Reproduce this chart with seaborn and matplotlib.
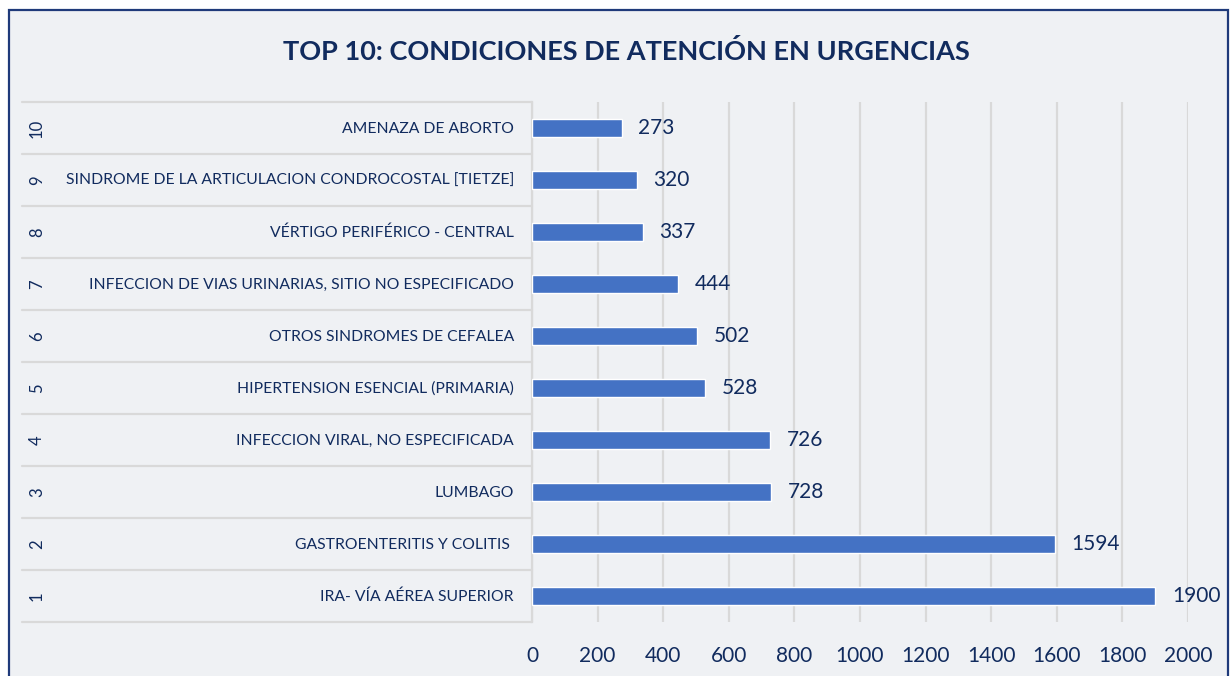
import matplotlib
matplotlib.use('Agg')
import matplotlib.pyplot as plt
import matplotlib.transforms as mtransforms
from matplotlib.patches import Rectangle
import pandas as pd
import seaborn as sns

# Datos: top 10 condiciones de atención en urgencias
ranks = [1, 2, 3, 4, 5, 6, 7, 8, 9, 10]
conditions = [
    'IRA- VÍA AÉREA SUPERIOR',
    'GASTROENTERITIS Y COLITIS ',
    'LUMBAGO',
    'INFECCION VIRAL, NO ESPECIFICADA',
    'HIPERTENSION ESENCIAL (PRIMARIA)',
    'OTROS SINDROMES DE CEFALEA',
    'INFECCION DE VIAS URINARIAS, SITIO NO ESPECIFICADO',
    'VÉRTIGO PERIFÉRICO - CENTRAL',
    'SINDROME DE LA ARTICULACION CONDROCOSTAL [TIETZE]',
    'AMENAZA DE ABORTO',
]
counts = [1900, 1594, 728, 726, 528, 502, 444, 337, 320, 273]
x_ticks = [0, 200, 400, 600, 800, 1000, 1200, 1400, 1600, 1800, 2000]

NAVY = '#112B5E'
BAR = '#4472C4'
BG = '#EFF1F4'
GRID = '#D9D9D9'

df = pd.DataFrame({'rank': ranks, 'condition': conditions, 'count': counts})
df['key'] = df['rank'].astype(str)
order = [str(r) for r in ranks[::-1]]

sns.set_style('white')
plt.rcParams['font.family'] = ['Lato', 'DejaVu Sans']

fig = plt.figure(figsize=(12.3, 6.76), dpi=100)
fig.patch.set_facecolor('white')
fig.patches.append(Rectangle((8.5 / 1230, -0.05), 1219 / 1230, (676 - 10.5) / 676 + 0.05,
                             transform=fig.transFigure, facecolor=BG,
                             edgecolor='#1F3A7A', linewidth=1.6, zorder=-10))

ax = fig.add_axes([532 / 1230, (676 - 622) / 676, 656 / 1230, 520 / 676])
ax.set_facecolor(BG)

sns.barplot(data=df, x='count', y='key', order=order, color=BAR,
            width=0.35, saturation=1, ax=ax, zorder=3)

ax.set_xlim(0, 2000)
ax.set_ylim(9.5, -0.5)
ax.set_xticks(x_ticks)
ax.tick_params(axis='x', length=0, pad=17, labelsize=15, labelcolor=NAVY)
ax.set_yticks([])
ax.set_xlabel('')
ax.set_ylabel('')
ax.grid(axis='x', color=GRID, linewidth=1.6, zorder=0)
ax.grid(axis='y', visible=False)
for s in ['top', 'right', 'bottom']:
    ax.spines[s].set_visible(False)
ax.spines['left'].set_color(GRID)
ax.spines['left'].set_linewidth(1.6)

for cont in ax.containers:
    ax.bar_label(cont, fmt='%d', padding=12, fontsize=15, color=NAVY)

# etiquetas de categoría en dos niveles (rango + condición)
trans = mtransforms.blended_transform_factory(ax.transAxes, ax.transData)
left = (22 - 532) / 656
for i, key in enumerate(order):
    row = df[df['key'] == key].iloc[0]
    ax.text(-0.0275, i + 0.02, row['condition'], transform=trans, ha='right', va='center',
            fontsize=11.35, color=NAVY, clip_on=False)
    ax.text((37 - 532) / 656, i, str(row['rank']), transform=trans, ha='center',
            va='center', rotation=90, fontsize=12, color=NAVY, clip_on=False)
for b in range(len(order) + 1):
    ax.plot([left, 0], [b - 0.5, b - 0.5], transform=trans, color=GRID,
            linewidth=1.6, clip_on=False, zorder=1)

fig.text(626 / 1230, 1 - 51 / 676, 'TOP 10: CONDICIONES DE ATENCIÓN EN URGENCIAS',
         ha='center', va='center', fontsize=19.5, fontweight='bold', color=NAVY)

fig.savefig('out.png', dpi=100, facecolor=fig.get_facecolor())
